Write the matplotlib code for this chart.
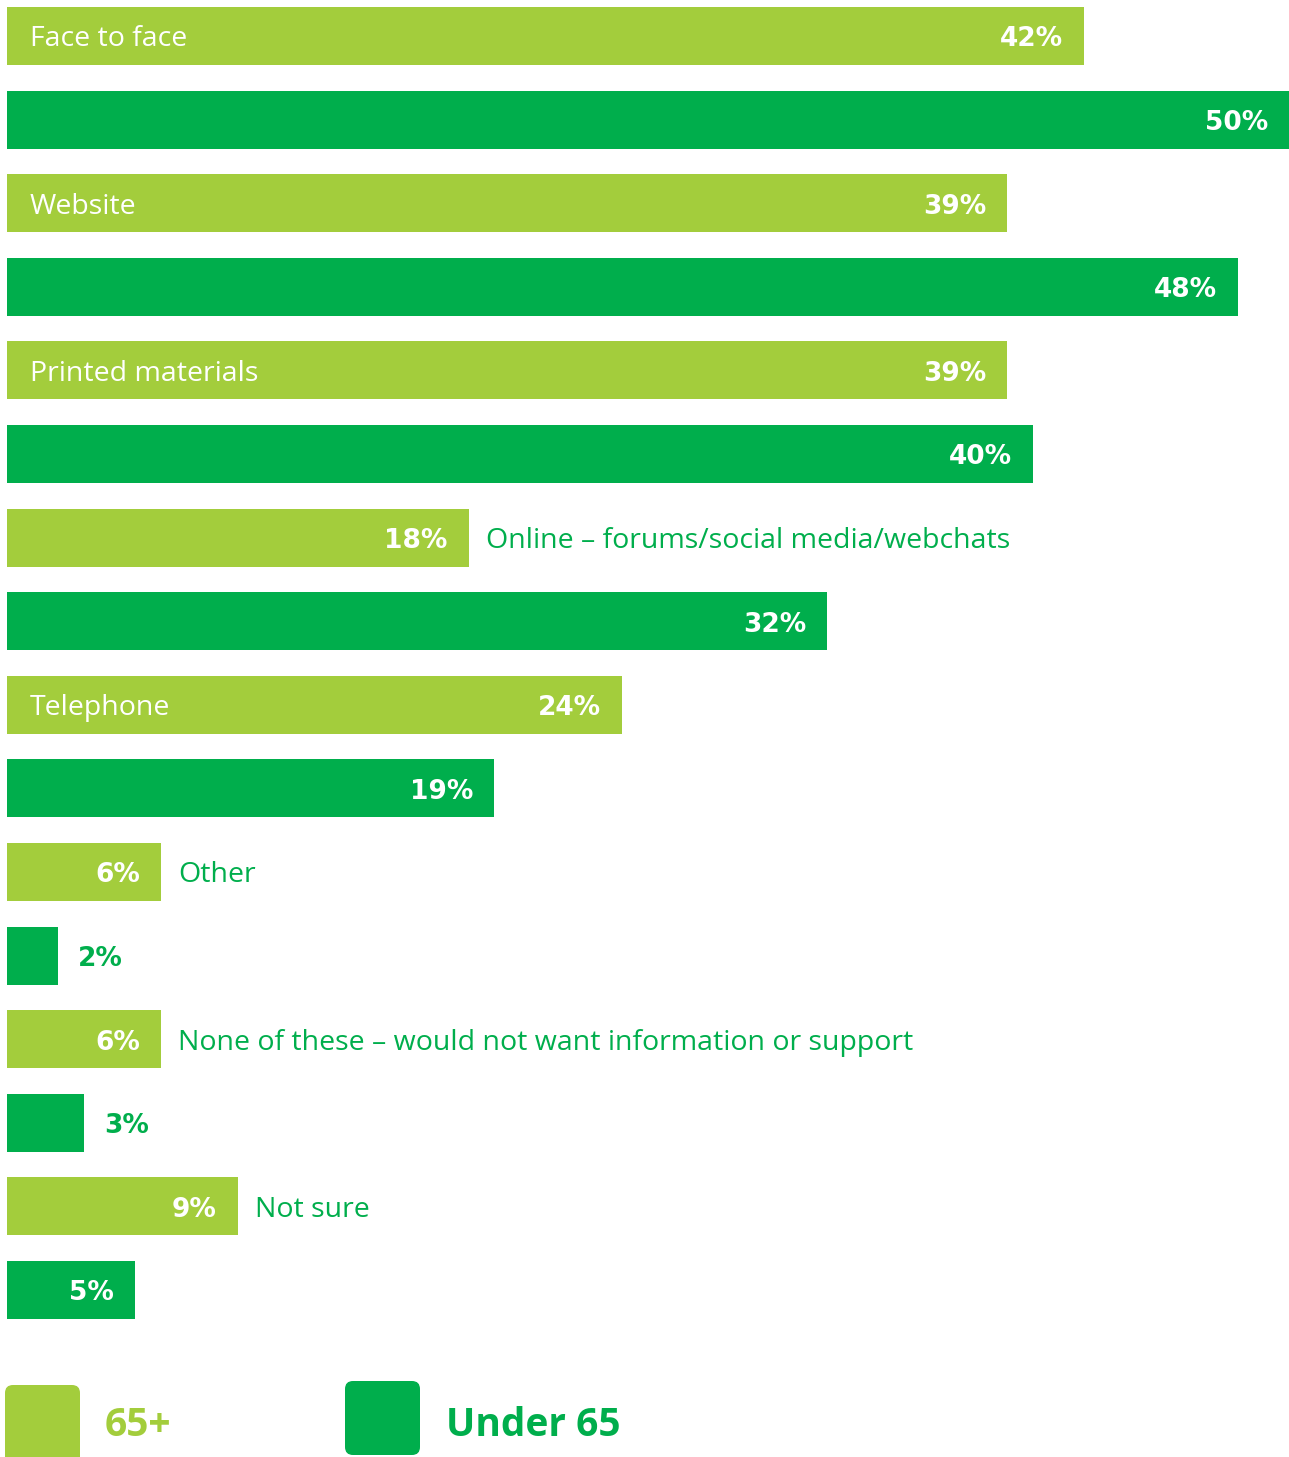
import matplotlib
matplotlib.use('Agg')
import matplotlib.pyplot as plt
from matplotlib.patches import FancyBboxPatch
import numpy as np

plt.rcParams['font.family'] = ['Open Sans', 'DejaVu Sans']

categories = ['Face to face', 'Website', 'Printed materials',
              'Online \u2013 forums/social media/webchats', 'Telephone', 'Other',
              'None of these \u2013 would not want information or support', 'Not sure']
older = [42, 39, 39, 18, 24, 6, 6, 9]      # 65+
younger = [50, 48, 40, 32, 19, 2, 3, 5]    # Under 65
groups = ['65+', 'Under 65']

light = '#a3cd3c'
dark = '#00ae4c'

W, H = 1289, 1457
fig = plt.figure(figsize=(W / 100, H / 100), dpi=100)
ax = fig.add_axes([0, 0, 1, 1])
px = (W - 7) / 50.0
ax.set_xlim(-7 / px, 50.0)
ax.set_ylim(H, 0)
ax.axis('off')

step = 83.6
y_old = 36 + step * 2 * np.arange(len(categories))
y_new = y_old + step
bh = 58

ax.barh(y_old, older, height=bh, color=light, edgecolor='none')
ax.barh(y_new, younger, height=bh, color=dark, edgecolor='none')

name_kw = dict(fontsize=20.5, va='baseline', textcoords='offset pixels')
pct_kw = dict(fontsize=19, fontweight='bold', family='DejaVu Sans',
              va='baseline', textcoords='offset pixels')
base = -10.5   # baseline sits half a cap height below the bar centre

for i, name in enumerate(categories):
    v = older[i]
    ax.annotate(f'{v}%', (v, y_old[i]), xytext=(-21, base), ha='right',
                color='white', **pct_kw)
    if v > 20:
        ax.annotate(name, (0, y_old[i]), xytext=(23, base), ha='left',
                    color='white', **name_kw)
    else:
        ax.annotate(name, (v, y_old[i]), xytext=(17, base), ha='left',
                    color=dark, **name_kw)

    u = younger[i]
    if u >= 5:
        ax.annotate(f'{u}%', (u, y_new[i]), xytext=(-21, base), ha='right',
                    color='white', **pct_kw)
    else:
        ax.annotate(f'{u}%', (u, y_new[i]), xytext=(20, base), ha='left',
                    color=dark, **pct_kw)

# legend drawn in pixel coordinates
lg = fig.add_axes([0, 0, 1, 1])
lg.set_xlim(0, W)
lg.set_ylim(H, 0)
lg.axis('off')
lg.patch.set_alpha(0)
for (x0, y0, w, h), c, label, tx in [((5, 1385, 75, 80), light, groups[0], 105),
                                     ((345, 1381, 75, 74), dark, groups[1], 446)]:
    lg.add_patch(FancyBboxPatch((x0 + 8, y0 + 8), w - 16, h - 16,
                                boxstyle='round,pad=8', fc=c, ec='none'))
    lg.text(tx, 1436, label, ha='left', va='baseline', color=c,
            fontsize=28, fontweight='bold')

fig.savefig('out.png', dpi=100)
